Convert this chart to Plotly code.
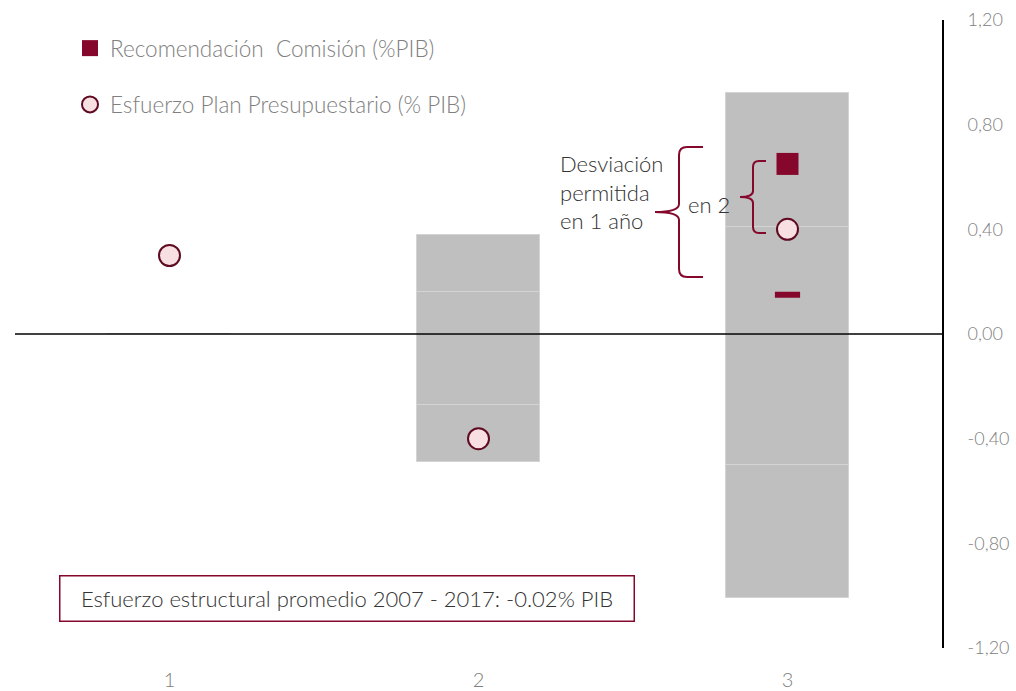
import plotly.graph_objects as go

# ---- data ----
categories = [1, 2, 3]
cat_labels = ["1", "2", "3"]
plan_effort = [0.30, -0.40, 0.40]          # Esfuerzo Plan Presupuestario (% PIB)
commission_rec = [None, None, 0.65]       # Recomendación Comisión (%PIB)
rec_dash = [None, None, 0.15]             # lower marker for year 3
band_pos_inner = [0, 0.16, 0.41]
band_pos_outer = [0, 0.22, 0.51]
band_neg_inner = [0, -0.27, -0.50]
band_neg_outer = [0, -0.22, -0.51]
y_ticks = [1.2, 0.8, 0.4, 0.0, -0.4, -0.8, -1.2]
y_tick_labels = ["1,20", "0,80", "0,40", "0,00", "-0,40", "-0,80", "-1,20"]

CRIMSON = "#85082c"
GRAY_TXT = "#808080"
FONT = "Lato"
WT = 300

fig = go.Figure()
for seg in [band_pos_inner, band_pos_outer, band_neg_inner, band_neg_outer]:
    fig.add_trace(go.Bar(x=categories, y=seg, width=0.4, marker=dict(color="#bfbfbf", line=dict(color="#d4d4d4", width=1)),
                         showlegend=False, hoverinfo="skip"))

fig.add_trace(go.Scatter(x=categories, y=commission_rec, mode="markers", name="Recomendación  Comisión (%PIB)",
                         legendgroup="a",
                         marker=dict(symbol="square", size=22, color=CRIMSON)))
fig.add_trace(go.Scatter(x=categories, y=plan_effort, mode="markers", name="Esfuerzo Plan Presupuestario (% PIB)",
                         legendgroup="b",
                         marker=dict(symbol="circle", size=21, color="#f7dfe2", line=dict(color="#5e0a20", width=2))))
fig.add_trace(go.Scatter(x=categories, y=rec_dash, mode="markers", showlegend=False,
                         marker=dict(symbol="line-ew-open", size=18, color=CRIMSON, line=dict(color=CRIMSON, width=6))))

# ---- layout geometry helpers (for annotation braces) ----
L, R, T, B, W, H = 15, 74, 20, 43, 1016, 691
pw, ph = W - L - R, H - T - B
def px2x(px):
    return 0.5 + (px - L) / pw * 3.0
def py2y(py):
    return 1.2 - (py - T) / ph * 2.4

def brace(xe, xv, xt, ytop, ytip, ybot, r=8):
    # left-pointing curly brace, pixel coordinates -> data coordinates
    def P(a, b):
        return f"{px2x(a):.5f},{py2y(b):.5f}"
    path = (f"M {P(xe, ytop)} L {P(xv + r, ytop)} Q {P(xv, ytop)} {P(xv, ytop + r)} "
            f"L {P(xv, ytip - r)} Q {P(xv, ytip)} {P(xt, ytip)} "
            f"Q {P(xv, ytip)} {P(xv, ytip + r)} L {P(xv, ybot - r)} "
            f"Q {P(xv, ybot)} {P(xv + r, ybot)} L {P(xe, ybot)}")
    return path

shapes = [
    dict(type="line", xref="paper", yref="y", x0=0, x1=1, y0=0, y1=0, line=dict(color="black", width=1.5), layer="above"),
    dict(type="path", xref="x", yref="y", path=brace(703, 679, 655, 147, 212, 277), line=dict(color=CRIMSON, width=2)),
    dict(type="path", xref="x", yref="y", path=brace(766, 753, 740, 161, 197, 233, r=6), line=dict(color=CRIMSON, width=2)),
]

TXT = dict(family=FONT, size=22, color="#333333", weight=WT)
annotations = [
    dict(xref="x", yref="y", x=px2x(558), y=py2y(192), xanchor="left", yanchor="middle", align="left",
         text="Desviación<br>permitida<br>en 1 año", showarrow=False, font=TXT),
    dict(xref="x", yref="y", x=px2x(686), y=py2y(204), xanchor="left", yanchor="middle",
         text="en 2", showarrow=False, font=TXT),
    dict(xref="paper", yref="paper", x=(346.5 - L) / pw, y=(H - B - 598) / ph, xanchor="center", yanchor="middle",
         text="Esfuerzo estructural promedio 2007 - 2017: -0.02% PIB", showarrow=False,
         font=TXT, bordercolor=CRIMSON, borderwidth=1.5,
         width=569, height=40, borderpad=2),
]

fig.update_layout(
    width=W, height=H, barmode="relative", bargap=0,
    margin=dict(l=L, r=R, t=T, b=B, autoexpand=False),
    plot_bgcolor="white", paper_bgcolor="white",
    font=dict(family=FONT, color=GRAY_TXT, size=18, weight=WT),
    shapes=shapes, annotations=annotations,
    legend=dict(x=(90 - L - 20) / pw, y=1.0 + (T - 27) / ph, xanchor="left", yanchor="top", bgcolor="rgba(0,0,0,0)",
                font=dict(family=FONT, size=22.5, color=GRAY_TXT, weight=WT), tracegroupgap=24),
    xaxis=dict(range=[0.5, 3.5], tickvals=categories, ticktext=cat_labels, showgrid=False, zeroline=False,
               automargin=False,
               showline=False, ticks="", ticklabelstandoff=18, tickfont=dict(size=20, color=GRAY_TXT, weight=WT)),
    yaxis=dict(range=[-1.2, 1.2], side="right", tickvals=y_ticks, ticktext=y_tick_labels, showgrid=False,
               automargin=False,
               zeroline=False, showline=True, linecolor="black", linewidth=2, ticks="",
               ticklabelstandoff=20, tickfont=dict(size=18, color=GRAY_TXT, weight=WT)),
)

fig.write_html("out.html", config={"displayModeBar": False},
               post_script="document.body.style.margin='0';document.body.style.overflow='hidden';")
